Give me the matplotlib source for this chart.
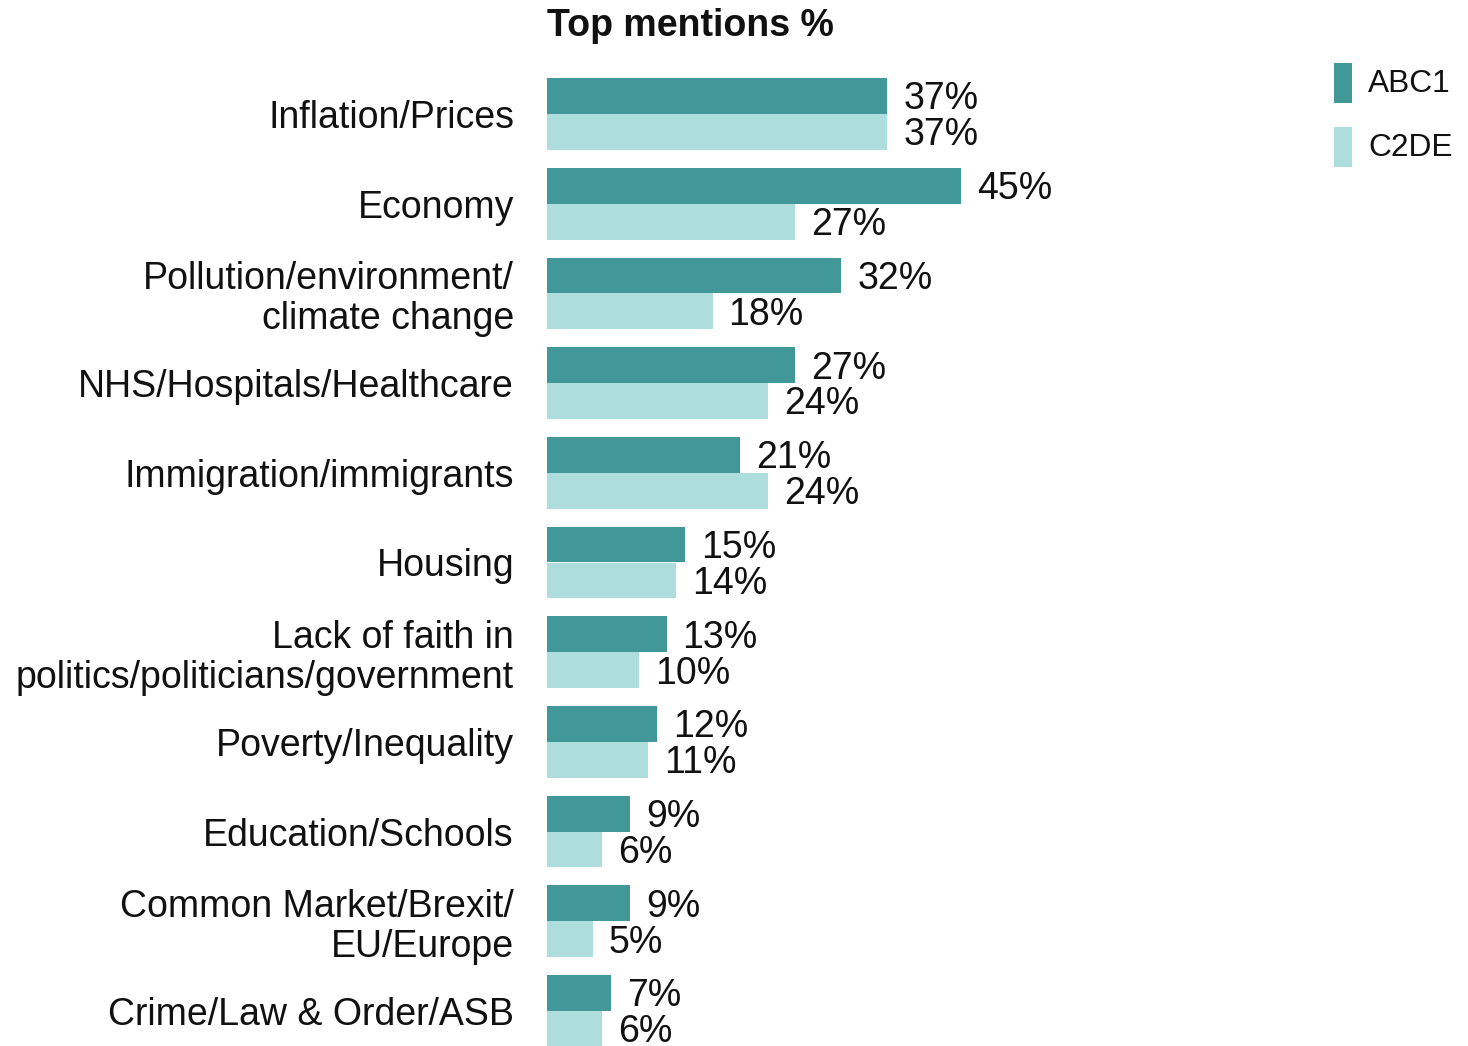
import matplotlib
matplotlib.use("Agg")
import matplotlib.pyplot as plt
from matplotlib.patches import Rectangle
import numpy as np

plt.rcParams['font.family'] = ['Liberation Sans', 'DejaVu Sans']

categories = [
    "Inflation/Prices",
    "Economy",
    "Pollution/environment/\nclimate change",
    "NHS/Hospitals/Healthcare",
    "Immigration/immigrants",
    "Housing",
    "Lack of faith in\npolitics/politicians/government",
    "Poverty/Inequality",
    "Education/Schools",
    "Common Market/Brexit/\nEU/Europe",
    "Crime/Law & Order/ASB",
]
abc1 = [37, 45, 32, 27, 21, 15, 13, 12, 9, 9, 7]
c2de = [37, 27, 18, 24, 24, 14, 10, 11, 6, 5, 6]
series_names = ["ABC1", "C2DE"]
colors = ["#429898", "#AEDDDD"]

W, H = 1468, 1046
fig = plt.figure(figsize=(W / 100, H / 100), dpi=100)
left_px = 547
ax = fig.add_axes([left_px / W, 0, 1 - left_px / W, 1])

y = np.arange(len(categories))
bh = 0.4
b1 = ax.barh(y - bh / 2, abc1, height=bh, color=colors[0], label=series_names[0])
b2 = ax.barh(y + bh / 2, c2de, height=bh, color=colors[1], label=series_names[1])

px_per_unit = 9.2
ax.set_xlim(0, (W - left_px) / px_per_unit)
pitch = 89.7
ax.set_ylim((H - 114) / pitch, -114 / pitch)

fs = 27
cap_half_pt = 0.716 * fs / 2  # half cap height in points
for bars, vals in ((b1, abc1), (b2, c2de)):
    for rect, v in zip(bars, vals):
        ax.annotate(f"{v}%", xy=(rect.get_width(), rect.get_y() + rect.get_height() / 2),
                    xytext=(16 * 0.72, -cap_half_pt), textcoords="offset points",
                    ha="left", va="baseline", fontsize=fs, color="#111111")

ax.set_yticks(y)
ax.set_yticklabels(categories, fontsize=fs, linespacing=1.12, color="#111111")
ax.tick_params(axis="y", length=0, pad=33 * 0.72)
ax.set_xticks([])
for s in ax.spines.values():
    s.set_visible(False)

fig.text(left_px / W, 1 - 36 / H, "Top mentions %", fontsize=fs, fontweight="bold",
         ha="left", va="baseline", color="#111111")

# legend (manual swatches in figure pixels)
leg_tops = [63, 127]
for name, col, top in zip(series_names, colors, leg_tops):
    fig.patches.append(Rectangle((1334 / W, 1 - (top + 40) / H), 18 / W, 40 / H,
                                 transform=fig.transFigure, facecolor=col,
                                 edgecolor="none"))
    fig.text(1368 / W, 1 - (top + 21) / H, name, fontsize=22.8, ha="left",
             va="center", color="#111111")

fig.savefig("out.png", dpi=100)
